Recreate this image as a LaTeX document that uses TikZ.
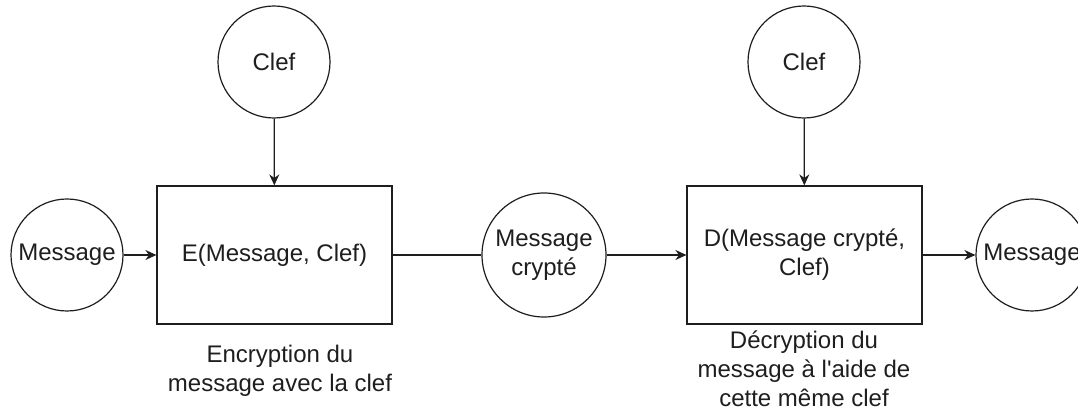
\documentclass[tikz,border=0pt]{standalone}
\usepackage{fontspec}
\setmainfont{Liberation Sans}
\usepackage{tikz}
\usetikzlibrary{arrows.meta, positioning}
\definecolor{ink}{RGB}{30,30,30}

\begin{document}
\begin{tikzpicture}[
        x=0.5pt, y=-0.5pt,
        every node/.style={font=\fontsize{12}{14.5}\selectfont, text=ink},
        rond/.style={draw=ink, circle, line width=0.6pt, fill=white,
                     minimum size=56pt, inner sep=0pt, align=center},
        bloc/.style={draw=ink, line width=0.6pt, fill=white,
                     minimum width=117.5pt, minimum height=69pt,
                     align=center},
        lbl/.style={align=center},
        arr/.style={-{Stealth[length=5.5pt, width=5pt]}, line width=0.6pt, ink},
        lien/.style={line width=0.6pt, ink},
      ]
        \useasboundingbox (0,0) rectangle (1078,411);

        \node[rond] (msg)    at (67, 255)  {Message};
        \node[rond] (clefE)  at (274, 62)  {Clef};
        \node[bloc] (enc)    at (274.5, 255) {E(Message, Clef)};
        \node[rond, minimum size=62pt] (crypt) at (544, 255) {Message\\crypté};
        \node[rond] (clefD)  at (804, 62)  {Clef};
        \node[bloc] (dec)    at (804.5, 255) {D(Message crypté,\\Clef)};
        \node[rond] (msgout) at (1032, 255) {Message};

        % Libelles sous les blocs
        \node[lbl] (encTxt) at (280, 371) {Encryption du\\message avec la clef};
        \node[lbl] (decTxt) at (804, 369) {Décryption du\\message à l\textquotesingle aide de\\cette même clef};

        % Chemin du message
        \draw[arr]  (msg)   -- (enc);
        \draw[arr]  (clefE) -- (enc);
        \draw[lien] (enc)   -- (crypt);
        \draw[arr]  (crypt) -- (dec);
        \draw[arr]  (clefD) -- (dec);
        \draw[arr]  (dec)   -- (msgout);
      \end{tikzpicture}
\end{document}
